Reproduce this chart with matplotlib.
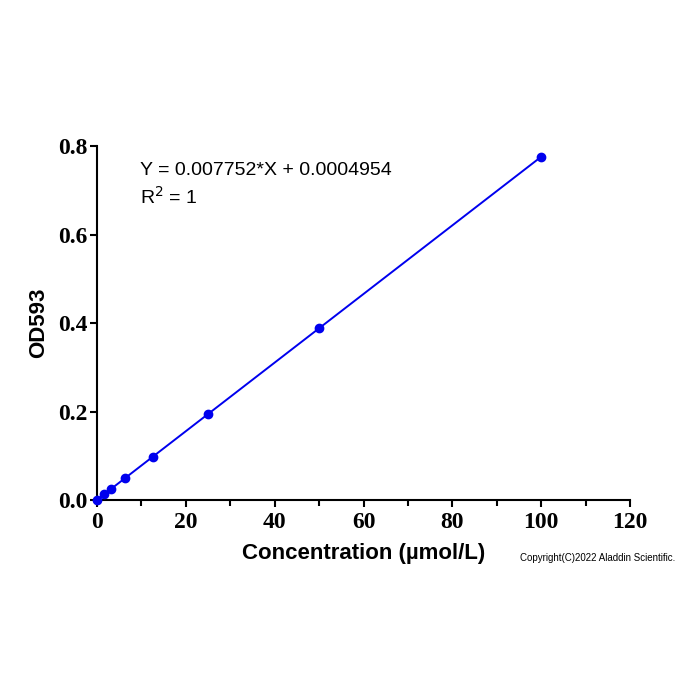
import numpy as np
import matplotlib.pyplot as plt
from matplotlib.ticker import MultipleLocator

# standard curve data
conc = [0, 1.5625, 3.125, 6.25, 12.5, 25, 50, 100]
od593 = [0.0005, 0.0126, 0.0247, 0.0490, 0.0974, 0.1943, 0.3881, 0.7757]
slope = 0.007752
intercept = 0.0004954

fig = plt.figure(figsize=(7, 7), dpi=100)
ax = fig.add_axes([0.1386, 0.2857, 0.9 - 0.1386, 0.7914 - 0.2857])

fit_x = np.array([0, 100])
ax.plot(fit_x, slope * fit_x + intercept, color='#0000ee', lw=1.4, zorder=3)
ax.plot(conc, od593, 'o', color='#0000ee', ms=6, zorder=4, clip_on=False)

ax.set_xlim(0, 120)
ax.set_ylim(0, 0.8)
ax.xaxis.set_major_locator(MultipleLocator(20))
ax.xaxis.set_minor_locator(MultipleLocator(10))
ax.yaxis.set_major_locator(MultipleLocator(0.2))
ax.yaxis.set_major_formatter(plt.FuncFormatter(lambda v, p: f'{v:.1f}'))

for s in ['top', 'right']:
    ax.spines[s].set_visible(False)
for s in ['left', 'bottom']:
    ax.spines[s].set_linewidth(1.5)
ax.tick_params(which='major', length=5, width=1.5, direction='out')
ax.tick_params(axis='y', which='major', pad=2)
ax.tick_params(which='minor', length=4, width=1.5, direction='out')
for lbl in ax.get_xticklabels() + ax.get_yticklabels():
    lbl.set_fontfamily('Liberation Serif')
    lbl.set_fontweight('bold')
    lbl.set_fontsize(17)

ax.set_xlabel('Concentration (µmol/L)', fontfamily='Liberation Sans',
              fontweight='bold', fontsize=16, labelpad=7)
ax.set_ylabel('OD593', fontfamily='Liberation Sans', fontweight='bold',
              fontsize=16, labelpad=6)

ax.text(9.7, 0.745, 'Y = 0.007752*X + 0.0004954', fontfamily='Liberation Sans',
        fontsize=14, va='center')
ax.text(9.7, 0.685, 'R$^2$ = 1', fontfamily='Liberation Sans',
        fontsize=14, va='center')

fig.text(0.743, 0.203, 'Copyright(C)2022 Aladdin Scientific.',
         fontfamily='Liberation Sans', fontsize=7, va='center')

fig.savefig('out.png', dpi=100)
